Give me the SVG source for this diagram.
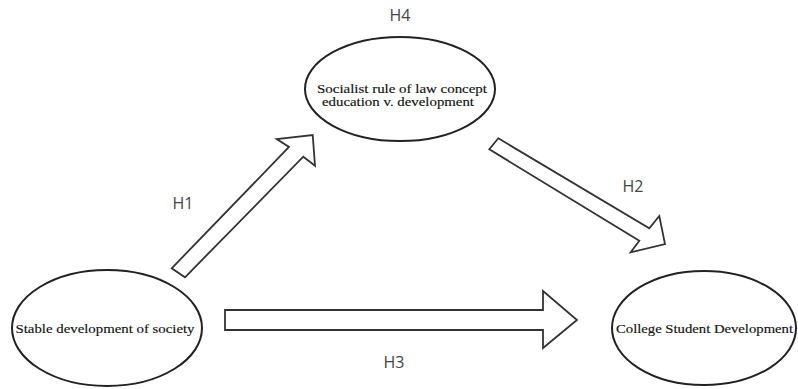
<svg xmlns="http://www.w3.org/2000/svg" width="798" height="389" viewBox="0 0 798 389">
<style>
.node ellipse{fill:#fff;stroke:#222;stroke-width:2}
.nt{font-family:"Liberation Serif","Times New Roman",serif;font-size:12.5px;fill:#111;text-anchor:middle;stroke:#111;stroke-width:0.15}
.arrow{fill:#fff;stroke:#333;stroke-width:1.8;stroke-linejoin:miter}
.lbl{font-family:"Open Sans","DejaVu Sans",sans-serif;font-size:16px;fill:#444;text-anchor:middle}
</style>
<rect width="798" height="389" fill="#fff"/>
<g id="connectors">
<polygon class="arrow" points="171.7,268.3 289,147 276.7,139 312.7,135 315,165.7 303.3,156.7 185,277.3"/>
<polygon class="arrow" points="498.3,138.3 649.3,228.3 659.3,216 665,244 630.7,252.3 639.3,240.7 489.3,149.3"/>
<polygon class="arrow" points="225,310 543,310 543,291 577,320 543,348 543,330 225,330"/>
<text class="lbl" x="183" y="209">H1</text>
<text class="lbl" x="633" y="192">H2</text>
<text class="lbl" x="394" y="368">H3</text>
<text class="lbl" x="400" y="21">H4</text>
</g>
<g id="node-law" class="node">
<ellipse cx="400" cy="89" rx="95" ry="52"/>
<text class="nt" x="402" y="93" textLength="170" lengthAdjust="spacingAndGlyphs">Socialist rule of law concept</text>
<text class="nt" x="398" y="106" textLength="152" lengthAdjust="spacingAndGlyphs">education v. development</text>
</g>
<g id="node-society" class="node">
<ellipse cx="107" cy="328" rx="95" ry="58"/>
<text class="nt" x="105" y="333" textLength="179" lengthAdjust="spacingAndGlyphs">Stable development of society</text>
</g>
<g id="node-college" class="node">
<ellipse cx="704" cy="328" rx="92" ry="57"/>
<text class="nt" x="704.5" y="333" textLength="177" lengthAdjust="spacingAndGlyphs">College Student Development</text>
</g>
</svg>
